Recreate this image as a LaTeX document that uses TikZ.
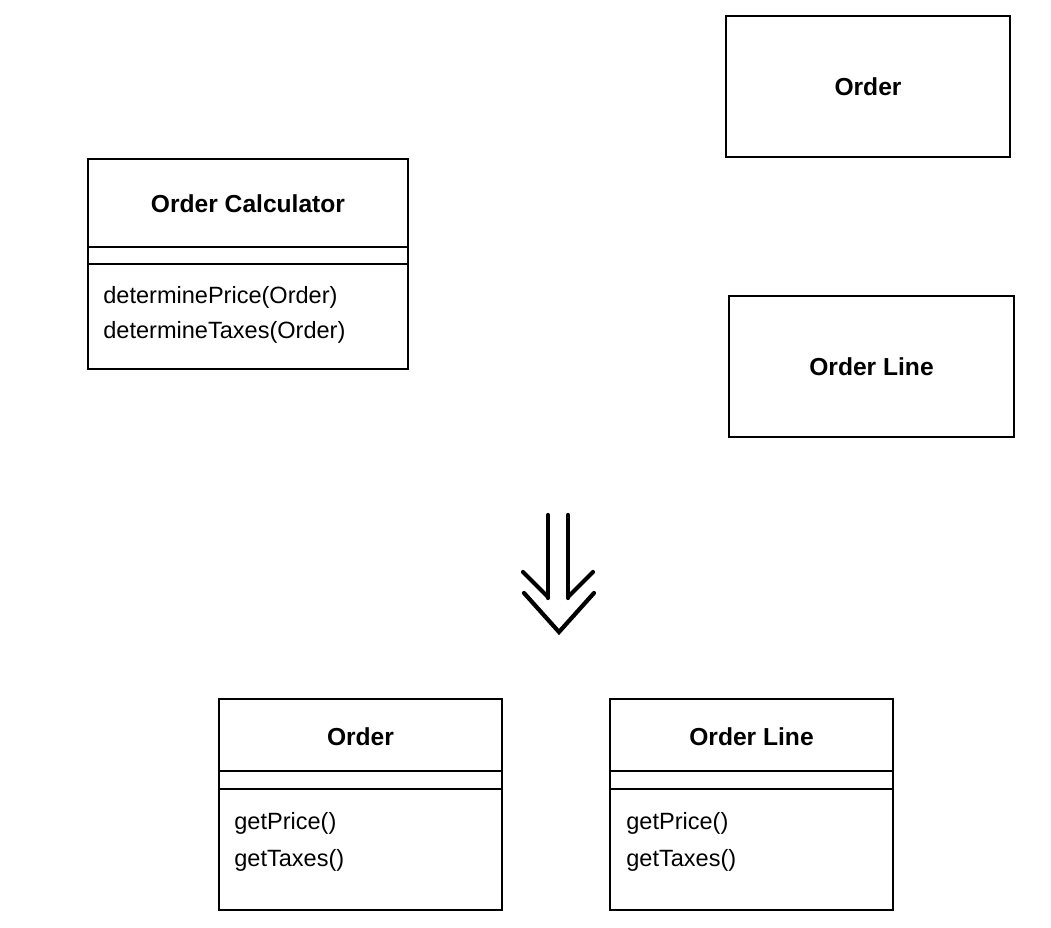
\documentclass[tikz,border=0pt]{standalone}
\usepackage{fontspec}
\setmainfont{Liberation Sans}
\begin{document}
\begin{tikzpicture}[
        x=0.02cm, y=-0.02cm,
        classbox/.style={
            rectangle,
            draw=black,
            line width=1.1pt,
            inner sep=0pt
        },
        classname/.style={font=\fontsize{14}{16}\selectfont\bfseries},
        method/.style={anchor=west, inner sep=0pt, font=\fontsize{13.4}{16}\selectfont},
        refine/.style={line width=2.4pt, line cap=round}
    ]
    \useasboundingbox (0,0) rectangle (1051,928);

    % Klassen oben
    \node[classbox, minimum width=6.4cm, minimum height=4.2cm] (calc) at (248,264) {};
    \node[classname] (calcname) at (248,204) {Order Calculator};
    \draw[line width=1.1pt] (calc.west |- 0,247) -- (calc.east |- 0,247);
    \draw[line width=1.1pt] (calc.west |- 0,264) -- (calc.east |- 0,264);
    \node[method] (calcm1) at (103,297) {determinePrice(Order)};
    \node[method] (calcm2) at (103,332) {determineTaxes(Order)};

    \node[classbox, minimum width=5.68cm, minimum height=2.82cm] (order) at (868,86.5) {};
    \node[classname] (ordername) at (order.center) {Order};

    \node[classbox, minimum width=5.7cm, minimum height=2.82cm] (line) at (871.5,366.5) {};
    \node[classname] (linename) at (line.center) {Order Line};

    % Pfeil
    \draw[refine] (548,515) -- (548,598);
    \draw[refine] (568,515) -- (568,598);
    \draw[refine] (523,572) -- (548,597);
    \draw[refine] (568,597) -- (593,572);
    \draw[refine, line join=miter] (524,593) -- (559,632) -- (594,593);

    % Klassen unten
    \node[classbox, minimum width=5.66cm, minimum height=4.22cm] (order2) at (360.5,804.5) {};
    \node[classname] (order2name) at (360.5,737) {Order};
    \draw[line width=1.1pt] (order2.west |- 0,771) -- (order2.east |- 0,771);
    \draw[line width=1.1pt] (order2.west |- 0,789) -- (order2.east |- 0,789);
    \node[method] (order2m1) at (234,823) {getPrice()};
    \node[method] (order2m2) at (234,860) {getTaxes()};

    \node[classbox, minimum width=5.66cm, minimum height=4.22cm] (line2) at (751.5,804.5) {};
    \node[classname] (line2name) at (751.5,737) {Order Line};
    \draw[line width=1.1pt] (line2.west |- 0,771) -- (line2.east |- 0,771);
    \draw[line width=1.1pt] (line2.west |- 0,789) -- (line2.east |- 0,789);
    \node[method] (line2m1) at (626,823) {getPrice()};
    \node[method] (line2m2) at (626,860) {getTaxes()};

\end{tikzpicture}
\end{document}
